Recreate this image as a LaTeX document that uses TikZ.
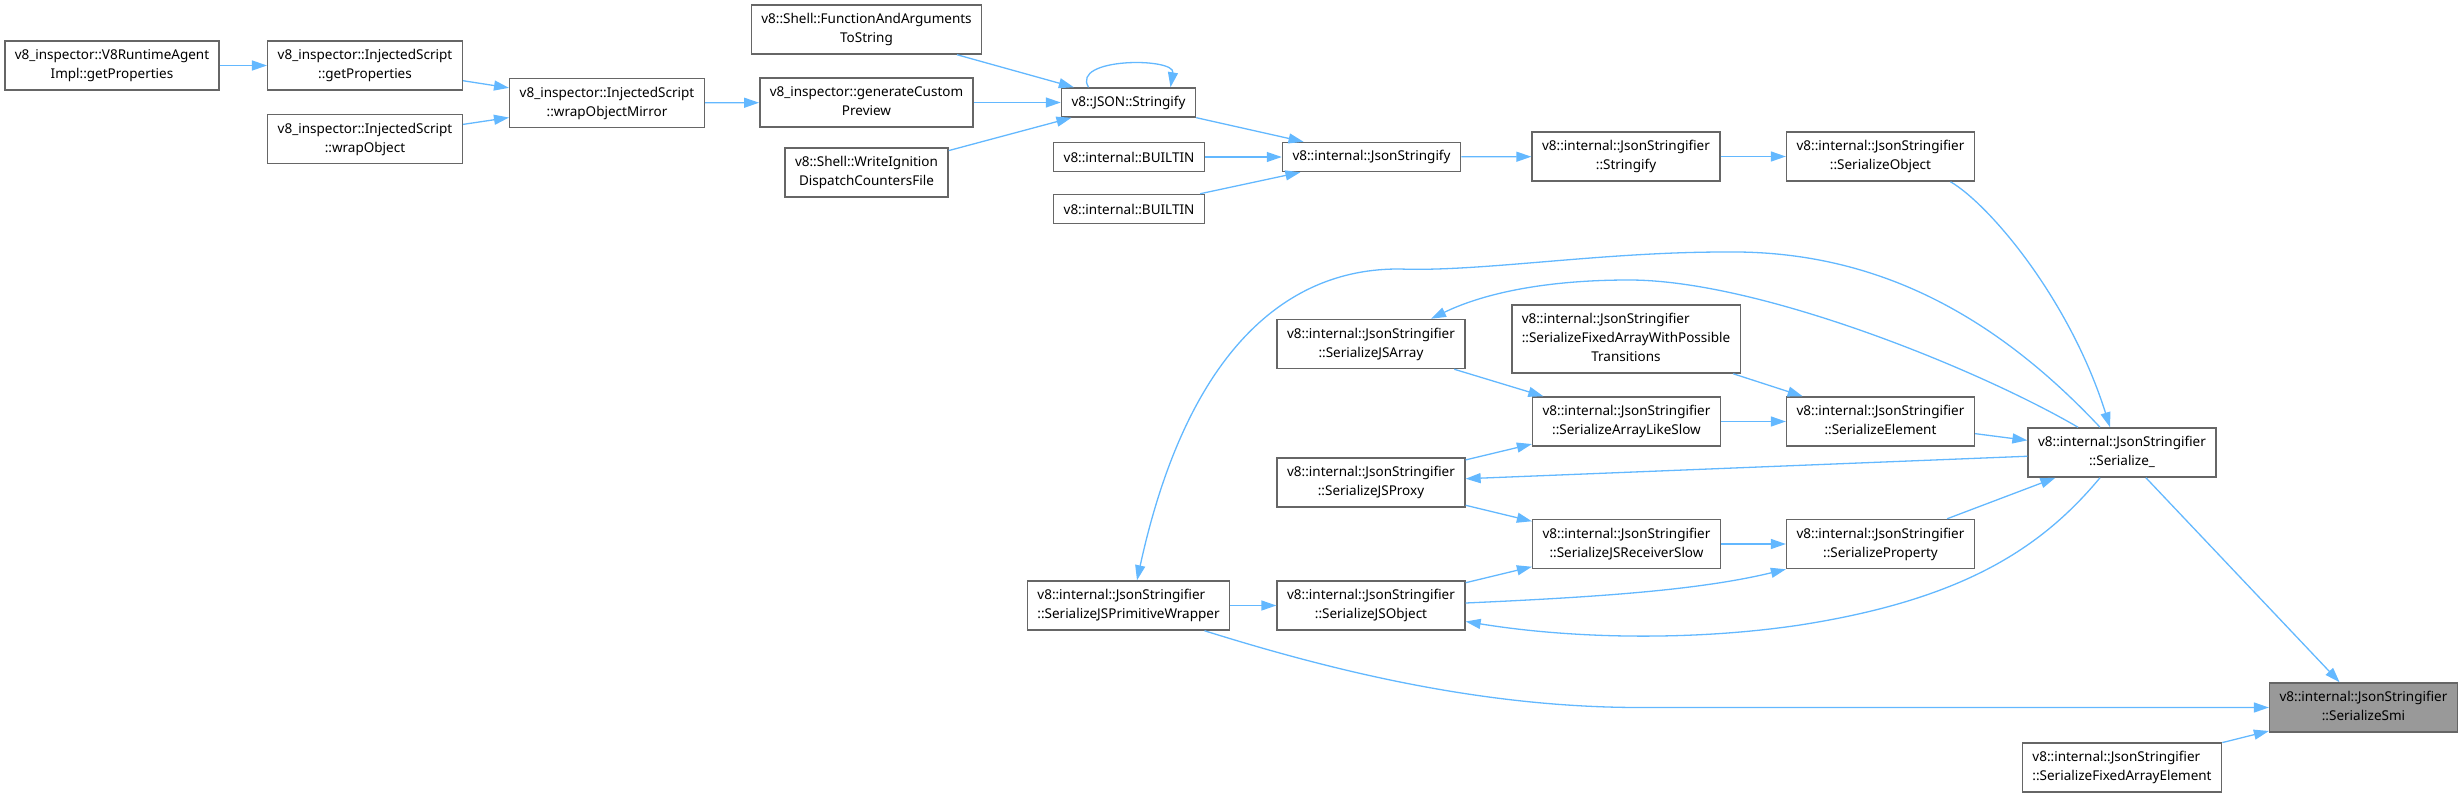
\documentclass[tikz,border=0pt]{standalone}
\usepackage{fontspec}
\setmainfont{Noto Sans}
\usetikzlibrary{arrows.meta}
\definecolor{edgeblue}{HTML}{63B8FF}
\definecolor{boxgray}{HTML}{666666}
\definecolor{smigray}{HTML}{999999}
% first lines left, last line centred
\newcommand{\dlabel}[2]{\begin{tabular}{@{}l@{}}#1\\\multicolumn{1}{@{}c@{}}{#2}\end{tabular}}

\begin{document}
\begin{tikzpicture}[x=1pt, y=-1pt,
        box/.style={rectangle, draw=boxgray, line width=1.5pt, fill=white, inner xsep=10pt, inner ysep=5.5pt, minimum height=29pt, font=\fontsize{13.5pt}{19pt}\selectfont},
        arrow/.style={-{Triangle[length=15pt,width=10pt]}, line width=1.3pt, draw=edgeblue}
    ]
        \useasboundingbox (0,0) rectangle (2463,798);

        \node[box] (agent) at (112,65.5) {\dlabel{v8\_inspector::V8RuntimeAgent}{Impl::getProperties}};
        \node[box] (getprops) at (365,65.5) {\dlabel{v8\_inspector::InjectedScript}{::getProperties}};
        \node[box] (wrapobj) at (365,139) {\dlabel{v8\_inspector::InjectedScript}{::wrapObject}};
        \node[box] (mirror) at (607,103) {\dlabel{v8\_inspector::InjectedScript}{::wrapObjectMirror}};

        \node[box] (faas) at (866.5,29.5) {\dlabel{v8::Shell::FunctionAndArguments}{ToString}};
        \node[box] (preview) at (866.5,102.5) {\dlabel{v8\_inspector::generateCustom}{Preview}};
        \node[box] (ignition) at (866.5,172.5) {\dlabel{v8::Shell::WriteIgnition}{DispatchCountersFile}};

        \node[box] (jsonstr) at (1128.5,102.5) {v8::JSON::Stringify};
        \node[box] (builtinA) at (1129,157) {v8::internal::BUILTIN};
        \node[box] (builtinB) at (1129,209) {v8::internal::BUILTIN};
        \node[box] (primwrap) at (1128.5,605.5) {\dlabel{v8::internal::JsonStringifier}{::SerializeJSPrimitiveWrapper}};

        \node[box] (jsonstringify) at (1371.5,157) {v8::internal::JsonStringify};
        \node[box] (jsarray) at (1371,344) {\dlabel{v8::internal::JsonStringifier}{::SerializeJSArray}};
        \node[box] (jsproxy) at (1371,482.5) {\dlabel{v8::internal::JsonStringifier}{::SerializeJSProxy}};
        \node[box] (jsobject) at (1371,605.5) {\dlabel{v8::internal::JsonStringifier}{::SerializeJSObject}};

        \node[box] (stringify) at (1626,156.5) {\dlabel{v8::internal::JsonStringifier}{::Stringify}};
        \node[box] (fawpt) at (1626,339) {\dlabel{v8::internal::JsonStringifier\\::SerializeFixedArrayWithPossible}{Transitions}};
        \node[box] (arraylike) at (1626.5,421.5) {\dlabel{v8::internal::JsonStringifier}{::SerializeArrayLikeSlow}};
        \node[box] (receiver) at (1626.5,544) {\dlabel{v8::internal::JsonStringifier}{::SerializeJSReceiverSlow}};

        \node[box] (serobj) at (1880.5,156.5) {\dlabel{v8::internal::JsonStringifier}{::SerializeObject}};
        \node[box] (element) at (1880.5,421.5) {\dlabel{v8::internal::JsonStringifier}{::SerializeElement}};
        \node[box] (property) at (1880.5,544) {\dlabel{v8::internal::JsonStringifier}{::SerializeProperty}};

        \node[box] (serialize) at (2122,452.5) {\dlabel{v8::internal::JsonStringifier}{::Serialize\_}};
        \node[box] (faelem) at (2122,767.5) {\dlabel{v8::internal::JsonStringifier}{::SerializeFixedArrayElement}};
        \node[box, fill=smigray] (smi) at (2363.5,707.5) {\dlabel{v8::internal::JsonStringifier}{::SerializeSmi}};

        \draw[arrow] (agent) -- (getprops);
        \draw[arrow] (getprops) -- (mirror);
        \draw[arrow] (wrapobj) -- (mirror);
        \draw[arrow] (mirror) -- (preview);
        \draw[arrow] (faas) -- (jsonstr);
        \draw[arrow] (preview) -- (jsonstr);
        \draw[arrow] (ignition) -- (jsonstr);
        \draw[arrow] ([xshift=-40pt]jsonstr.north) .. controls +(-18,-30) and +(5,-30) .. ([xshift=42pt]jsonstr.north);
        \draw[arrow] (jsonstr) -- (jsonstringify);
        \draw[arrow] (builtinA) -- (jsonstringify);
        \draw[arrow] (builtinB) -- (jsonstringify);
        \draw[arrow] (jsonstringify) -- (stringify);
        \draw[arrow] (stringify) -- (serobj);
        \draw[arrow] ([xshift=70pt]serobj.south) .. controls (1990,205) and (2070,300) .. ([xshift=-12pt]serialize.north);

        \draw[arrow] (jsarray) -- (arraylike);
        \draw[arrow] (fawpt) -- (element);
        \draw[arrow] (arraylike) -- (element);
        \draw[arrow] (element) -- (serialize);
        \draw[arrow] (jsproxy) -- (arraylike);
        \draw[arrow] (serialize) -- (jsproxy);
        \draw[arrow] (jsproxy) -- (receiver);
        \draw[arrow] (receiver) -- (property);
        \draw[arrow] (property) -- (serialize);
        \draw[arrow] (jsobject) -- (receiver);
        \draw[arrow] ([yshift=2.5pt]jsobject.east) .. controls (1600,597) and (1700,590) .. (property.south west);
        \draw[arrow] ([xshift=-22pt]serialize.south) .. controls (2040,550) and (1960,600) .. (1800,625) .. controls (1700,640) and (1580,640) .. ([yshift=-16pt]jsobject.east);
        \draw[arrow] (primwrap) -- (jsobject);
        \draw[arrow] ([xshift=-44pt]serialize.north) .. controls (1980,370) and (1760,280) .. (1629,280) .. controls (1540,280) and (1480,295) .. ([xshift=60pt]jsarray.north);
        \draw[arrow] ([xshift=-22pt]serialize.north) .. controls (1990,310) and (1870,250) .. (1725,252) .. controls (1600,252) and (1480,272) .. (1400,269) .. controls (1280,268) and (1185,360) .. ([xshift=8.5pt]primwrap.north);
        \draw[arrow] ([xshift=76pt]primwrap.south) .. controls (1330,670) and (1480,707.5) .. (1640,707.5) -- (smi.west);
        \draw[arrow] (serialize) -- (smi);
        \draw[arrow] (faelem) -- (smi);
    \end{tikzpicture}
\end{document}
